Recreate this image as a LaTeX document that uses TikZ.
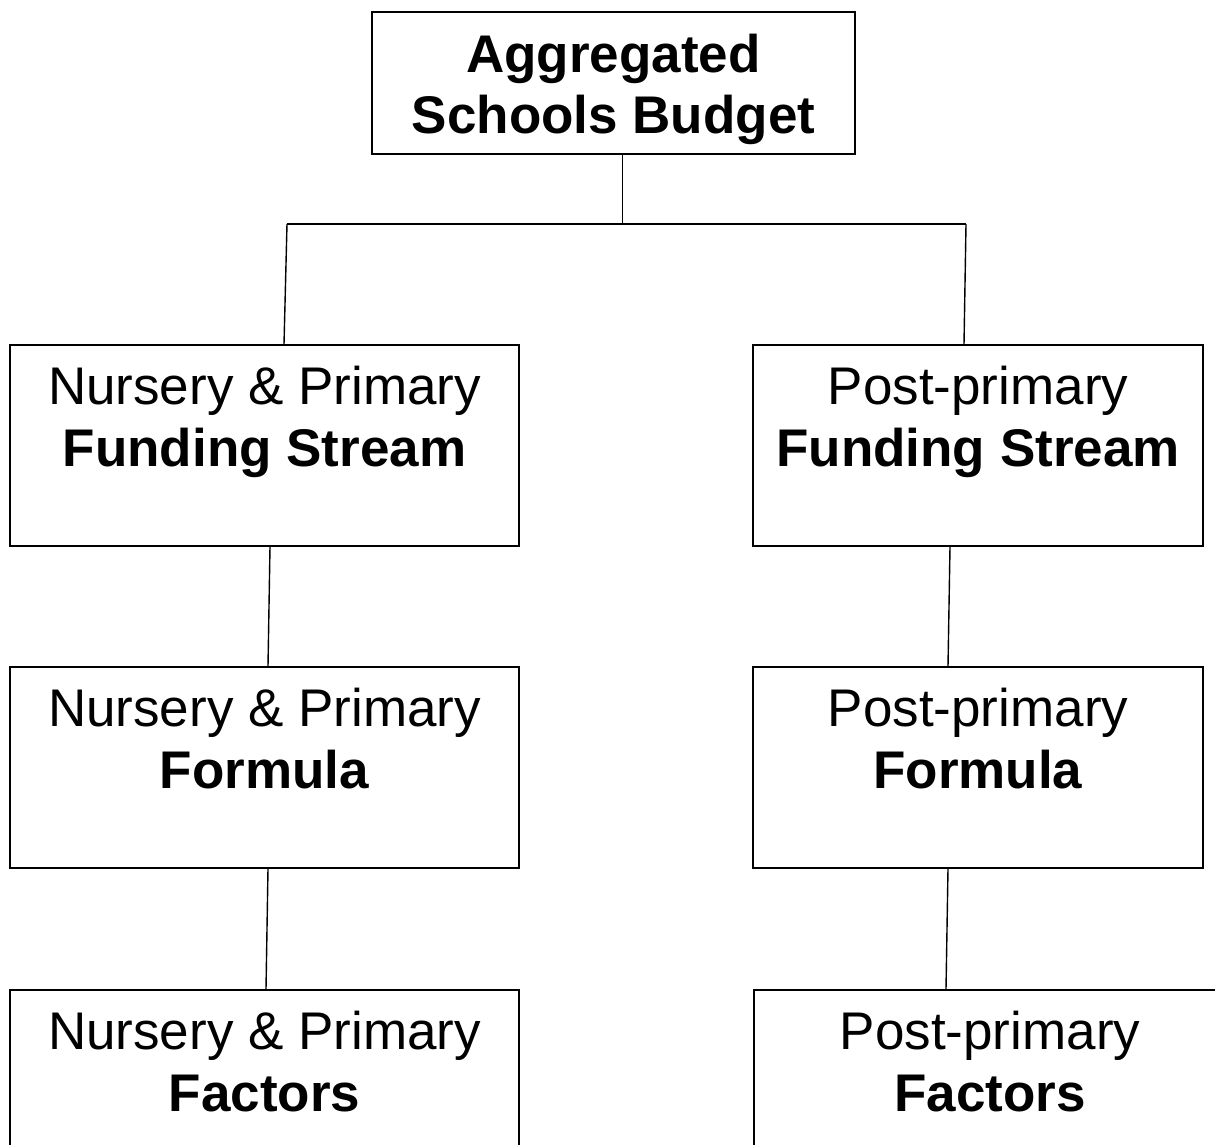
\documentclass[tikz,border=0pt]{standalone}
\usepackage{fontspec}
\setmainfont{Liberation Sans}
\usetikzlibrary{calc}

\begin{document}
\begin{tikzpicture}[x=1pt,y=-1pt,
  box/.style={draw, line width=1.6pt, minimum width=509pt, minimum height=201pt, inner sep=0pt},
  txt/.style={anchor=north, align=center, inner sep=0pt, font=\fontsize{53}{62}\selectfont},
  link/.style={line width=1.4pt}]
\useasboundingbox (0,0) rectangle (1215,1144);
\clip (0,0) rectangle (1215,1144);
% top
\node[box, minimum width=483pt, minimum height=142pt] (asb) at (613.5,83) {};
\node[txt, font=\fontsize{53}{61}\selectfont] (asbt) at ([yshift=-22.5pt]asb.north) {\textbf{Aggregated}\\\textbf{Schools Budget}};
% left column
\node[box] (np1) at (264.5,445.5) {};
\node[box] (np2) at (264.5,767.5) {};
\node[box] (np3) at (264.5,1090.5) {};
% right column
\node[box, minimum width=450pt] (pp1) at (978,445.5) {};
\node[box, minimum width=450pt] (pp2) at (978,767.5) {};
\node[box, minimum width=472pt] (pp3) at (990,1090.5) {};
\foreach \b/\first/\second in {np1/Nursery \& Primary/Funding Stream, np2/Nursery \& Primary/Formula, np3/Nursery \& Primary/Factors,
  pp1/Post-primary/Funding Stream, pp2/Post-primary/Formula, pp3/Post-primary/Factors}{
\node[txt] (\b t) at ([yshift=-21.4pt]\b.north) {\first\\\textbf{\second}};
}
% connectors
\coordinate (jM) at (622.5,224);
\coordinate (jL) at (287,224);
\coordinate (jR) at (966,224);
\draw[link] ([xshift=9pt]asb.south) -- (jM);
\draw[link] (jL) -- (jR);
\draw[link] (jL) -- ([xshift=19.5pt]np1.north);
\draw[link] (jR) -- ([xshift=-14pt]pp1.north);
\foreach \a/\c/\da/\dc in {np1/np2/5.5/3.5, np2/np3/3.5/1.5, pp1/pp2/-28/-30, pp2/pp3/-30/-44}
  \draw[link] ([xshift=\da pt]\a.south) -- ([xshift=\dc pt]\c.north);
\end{tikzpicture}
\end{document}
